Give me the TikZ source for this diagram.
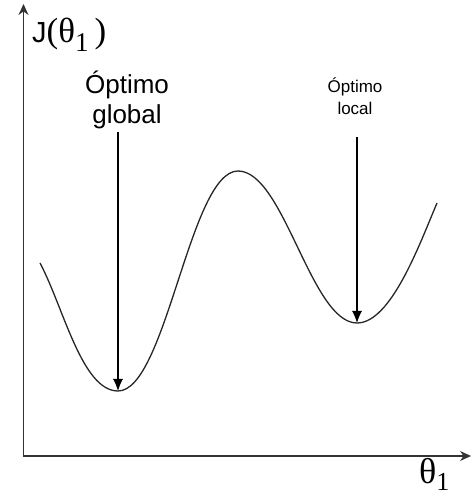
\documentclass[tikz,border=0pt]{standalone}
\usepackage{fontspec}
\setmainfont{Liberation Sans}
\newfontfamily\greekserif{Liberation Serif}
\usetikzlibrary{arrows.meta}

\begin{document}
\begin{tikzpicture}[x=1pt, y=1pt, axis/.style={line width=1.4pt, draw=black!80}, curve/.style={line width=1.3pt, black!85}, pointer/.style={line width=1.1pt, -{Latex[length=12pt, width=10pt]}}, note/.style={align=center, inner sep=3pt, font=\fontsize{26}{30}\selectfont}]
  \useasboundingbox (0,0) rectangle (474,498);
  % axes
  \coordinate (O) at (23.5,42);
  \coordinate (Ytop) at (23.5,494);
  \coordinate (Xend) at (471,42);
  \draw[axis, {Stealth[length=11pt, width=10pt]}-{Stealth[length=11pt, width=10pt]}] (Ytop) -- (O) -- (Xend);
  \node[anchor=base west, inner sep=0pt, font=\fontsize{29}{30}\selectfont] (J) at (32,455) {J{\greekserif\fontsize{35}{35}\selectfont(θ\raisebox{-9pt}{\fontsize{27}{27}\selectfont 1}\hspace{6pt})}};
  \node[anchor=base west, inner sep=0pt, font=\greekserif\fontsize{36}{36}\selectfont] (theta) at (419,14) {θ\raisebox{-6pt}{\fontsize{26}{26}\selectfont 1}};
  % cost curve
  \coordinate (C0) at (40,235);
  \coordinate (Gmin) at (118,107);
  \coordinate (Peak) at (238,327);
  \coordinate (Lmin) at (357,175);
  \coordinate (C4) at (437,295);
  \draw[curve] (C0) .. controls +(-62:50) and +(-36,0) .. (Gmin)
    .. controls +(48,0) and +(-48,0) .. (Peak)
    .. controls +(46,0) and +(-46,0) .. (Lmin)
    .. controls +(34,0) and +(247:45) .. (C4);
  % optima
  \node[note] (global) at (127,398) {Óptimo\\global};
  \draw[pointer] (global.south -| Gmin) -- (Gmin);
  \node[note, font=\fontsize{17}{22}\selectfont] (local) at (355,402) {Óptimo\\local};
  \draw[pointer] ([yshift=-19pt]local.south -| Lmin) -- (Lmin);
\end{tikzpicture}
\end{document}
